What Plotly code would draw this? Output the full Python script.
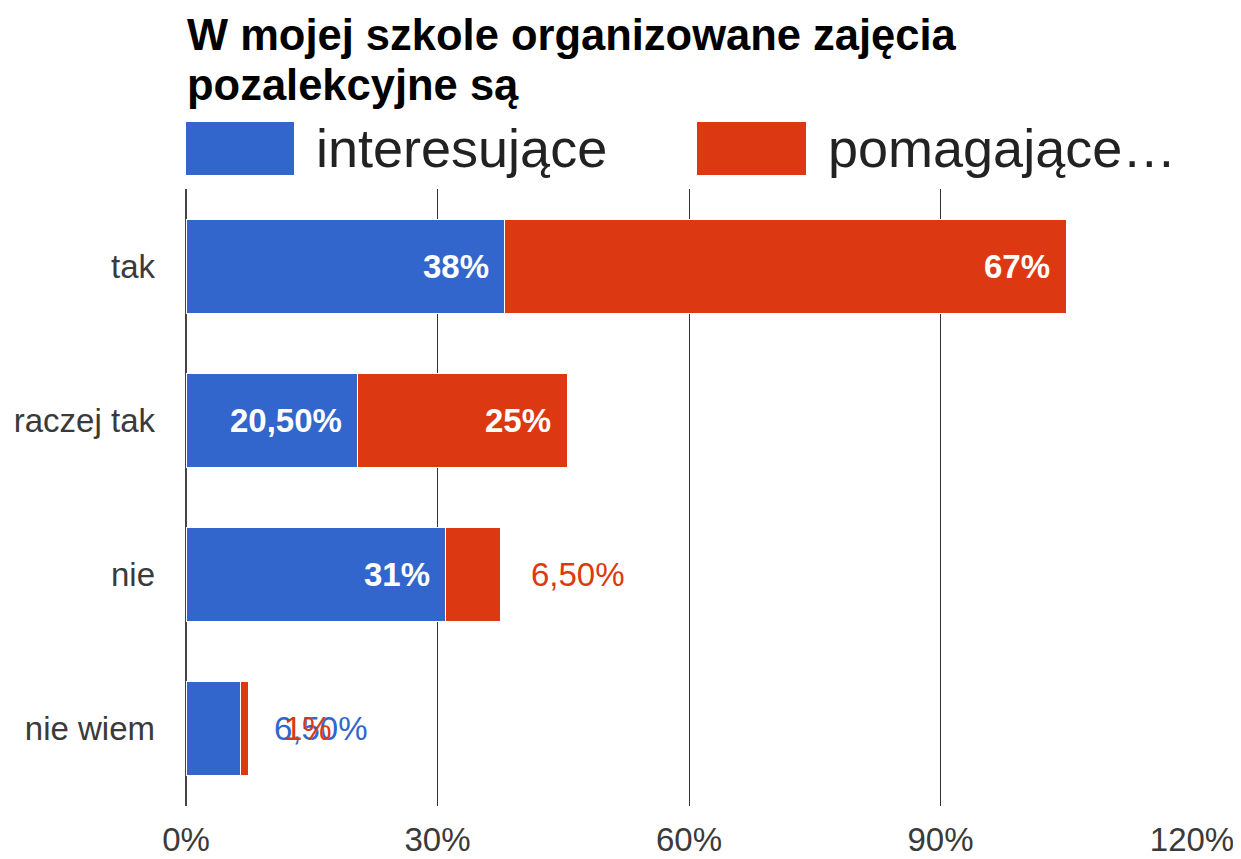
import plotly.graph_objects as go

categories = ["tak", "raczej tak", "nie", "nie wiem"]
interesujace = [38, 20.5, 31, 6.5]
pomagajace = [67, 25, 6.5, 1]
interesujace_labels = ["38%", "20,50%", "31%", "6,50%"]
pomagajace_labels = ["67%", "25%", "6,50%", "1%"]
series_names = ["interesujące", "pomagające…"]
x_ticks = [0, 30, 60, 90, 120]
x_tick_labels = ["0%", "30%", "60%", "90%", "120%"]
title_lines = ["W mojej szkole organizowane zajęcia", "pozalekcyjne są"]

BLUE = "#3366CC"
RED = "#DC3912"
FONT = "Liberation Sans, Arial, sans-serif"

# page body has an 8px margin; work in reference pixel coords and convert
OFF = 8
W, H = 1241 - OFF, 859 - OFF
L, T = 186 - OFF, 189 - OFF
R = W - (1192 - OFF)
B = H - (806 - OFF)
pw, ph = W - L - R, H - T - B


def px(x):
    return (x - OFF - L) / pw


def py(y):
    return (H - B - (y - OFF)) / ph


fig = go.Figure()
fig.add_trace(go.Bar(y=categories, x=interesujace, orientation="h", name=series_names[0],
                     marker=dict(color=BLUE, line=dict(color="white", width=1)),
                     hoverinfo="x+y"))
fig.add_trace(go.Bar(y=categories, x=pomagajace, orientation="h", name=series_names[1],
                     marker=dict(color=RED, line=dict(color="white", width=1)),
                     hoverinfo="x+y"))

annotations = []
for i, cat in enumerate(categories):
    b = interesujace[i]
    r = pomagajace[i]
    total = b + r
    if b >= 10:
        annotations.append(dict(x=b, y=cat, xref="x", yref="y", text=interesujace_labels[i],
                                xanchor="right", yanchor="middle", xshift=-14, showarrow=False,
                                font=dict(family=FONT, size=33, color="white", weight="bold")))
    else:
        annotations.append(dict(x=total, y=cat, xref="x", yref="y", text=interesujace_labels[i],
                                xanchor="left", yanchor="middle", xshift=23, showarrow=False,
                                font=dict(family=FONT, size=33, color=BLUE)))
    if r >= 10:
        annotations.append(dict(x=total, y=cat, xref="x", yref="y", text=pomagajace_labels[i],
                                xanchor="right", yanchor="middle", xshift=-14, showarrow=False,
                                font=dict(family=FONT, size=33, color="white", weight="bold")))
    else:
        shift = 29 if b >= 10 else 33
        annotations.append(dict(x=total, y=cat, xref="x", yref="y", text=pomagajace_labels[i],
                                xanchor="left", yanchor="middle", xshift=shift, showarrow=False,
                                font=dict(family=FONT, size=33, color=RED)))

# Title (two lines, positioned individually)
for line, yc in zip(title_lines, [35, 85]):
    annotations.append(dict(x=px(185), y=py(yc), xref="paper", yref="paper", text=line,
                            xanchor="left", yanchor="middle", showarrow=False,
                            font=dict(family=FONT, size=43.5, color="#000000", weight="bold")))

# Custom legend
shapes = [
    dict(type="rect", xref="paper", yref="paper", x0=px(186), x1=px(294), y0=py(175), y1=py(122),
         fillcolor=BLUE, line=dict(width=0)),
    dict(type="rect", xref="paper", yref="paper", x0=px(697), x1=px(806), y0=py(175), y1=py(122),
         fillcolor=RED, line=dict(width=0)),
]
annotations.append(dict(x=px(314), y=py(148), xref="paper", yref="paper", text=series_names[0],
                        xanchor="left", yanchor="middle", showarrow=False,
                        font=dict(family=FONT, size=54, color="#222222")))
annotations.append(dict(x=px(826), y=py(148), xref="paper", yref="paper", text=series_names[1],
                        xanchor="left", yanchor="middle", showarrow=False,
                        font=dict(family=FONT, size=54, color="#222222")))

fig.update_layout(
    width=W, height=H,
    barmode="stack",
    bargap=0.39,
    showlegend=False,
    plot_bgcolor="white",
    paper_bgcolor="white",
    margin=dict(l=L, r=R, t=T, b=B, autoexpand=False),
    annotations=annotations,
    shapes=shapes,
    xaxis=dict(range=[0, 120], tickvals=x_ticks, ticktext=x_tick_labels,
               showgrid=True, gridcolor="#333333", gridwidth=1,
               zeroline=True, zerolinecolor="#444444", zerolinewidth=2,
               showline=False, ticks="", ticklabelstandoff=11,
               tickfont=dict(family=FONT, size=33, color="#3a3a3a"), fixedrange=True),
    yaxis=dict(categoryorder="array", categoryarray=categories, autorange="reversed",
               showgrid=False, zeroline=False, showline=False, ticks="",
               ticklabelstandoff=30,
               tickfont=dict(family=FONT, size=33, color="#3a3a3a"), fixedrange=True),
)

fig.write_html("out.html")
